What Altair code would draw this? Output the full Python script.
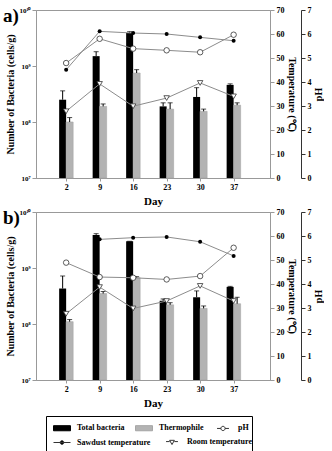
import altair as alt
import pandas as pd

# Sampling days
days = [2, 9, 16, 23, 30, 37]

# (a) bacterial counts (cells/g) with upper error, temperatures (°C) and pH
a_total = [2.5e8, 1.5e9, 3.9e9, 1.9e8, 2.8e8, 4.6e8]
a_total_err = [1.1e8, 3.0e8, 2.0e8, 3.0e7, 1.3e8, 2.0e7]
a_thermo = [1.0e8, 1.9e8, 7.5e8, 1.7e8, 1.55e8, 2.0e8]
a_thermo_err = [2.0e7, 2.0e7, 1.1e8, 5.0e7, 1.5e7, 2.0e7]
a_sawdust = [45.1, 61.1, 60.4, 60.0, 58.6, 57.2]
a_room = [27.8, 39.2, 29.9, 33.3, 39.6, 34.0]
a_ph = [4.79, 5.80, 5.39, 5.32, 5.24, 5.97]

# (b)
b_total = [4.3e8, 3.9e9, 3.0e9, 2.6e8, 3.0e8, 4.6e8]
b_total_err = [2.9e8, 2.0e8, 0.0, 2.0e7, 9.0e7, 1.0e7]
b_thermo = [1.1e8, 3.5e8, 6.7e8, 2.2e8, 1.9e8, 2.3e8]
b_thermo_err = [1.0e7, 3.0e7, 3.0e7, 2.0e7, 2.0e7, 7.0e7]
b_sawdust = [None, 58.6, 59.3, 59.6, 57.6, 51.7]
b_room = [27.6, 38.7, 29.8, 32.9, 39.2, 32.9]
b_ph = [4.89, 4.29, 4.26, 4.19, 4.33, 5.51]

# Count axis range (cells/g)
count_min, count_max = 1e7, 1e10

# Legend entries, first and second row
key1_names = ["Total bacteria", "Thermophile", "pH"]
key1_fill = ["black", "#b3b3b3", "white"]
key1_stroke = ["black", "#a6a6a6", "#333333"]
key1_shape = [
    "M-1,-0.3H1V0.3H-1Z",
    "M-1,-0.3H1V0.3H-1Z",
    "M-0.7,0H-0.25M0.25,0H0.7M0.25,0A0.25,0.25,0,1,1,-0.25,0A0.25,0.25,0,1,1,0.25,0Z",
]
key2_names = ["Sawdust temperature", "Room temperature"]
key2_fill = ["black", "white"]
key2_stroke = ["#333333", "#333333"]
key2_shape = [
    "M-1,0H1M0.22,0A0.22,0.22,0,1,1,-0.22,0A0.22,0.22,0,1,1,0.22,0Z",
    "M-0.7,-0.1H-0.28M0.28,-0.1H0.7M-0.28,-0.25L0.28,-0.25L0,0.25Z",
]

SERIF = "Liberation Serif"
W, H = 234, 168
LINE_GRAY = "#8c8c8c"

SUPERSCRIPT = ("datum.value == 10000000 ? '10\u2077' : datum.value == 100000000 ? '10\u2078' : "
               "datum.value == 1000000000 ? '10\u2079' : '10\u00b9\u2070'")

KEY_COMMON = dict(orient="none", direction="horizontal",
                  symbolSize=289, symbolOpacity=1, symbolStrokeWidth=1,
                  labelFont=SERIF, labelFontWeight="bold", labelFontSize=8,
                  labelOffset=6)


def key_layer(field, names, fills, strokes, shapes, **legend_kw):
    leg = dict(KEY_COMMON, **legend_kw)
    df = pd.DataFrame({field: names})
    return alt.Chart(df).mark_point(opacity=0, size=0).encode(
        fill=alt.Fill(f"{field}:N", sort=names,
                      scale=alt.Scale(domain=names, range=fills),
                      legend=alt.Legend(**leg)),
        stroke=alt.Stroke(f"{field}:N", sort=names,
                          scale=alt.Scale(domain=names, range=strokes),
                          legend=alt.Legend(**leg)),
        shape=alt.Shape(f"{field}:N", sort=names,
                        scale=alt.Scale(domain=names, range=shapes),
                        legend=alt.Legend(**leg)),
    )


def panel(tag, total, total_err, thermo, thermo_err, sawdust, room, ph, legend):
    df = pd.DataFrame({
        "day": days,
        "floor": [count_min] * len(days),
        "total": total,
        "total_top": [v + e for v, e in zip(total, total_err)],
        "thermo": thermo,
        "thermo_top": [v + e for v, e in zip(thermo, thermo_err)],
        "sawdust": sawdust,
        "room": room,
        "ph": ph,
    })
    base = alt.Chart(df)
    x = alt.X("day:Q",
              scale=alt.Scale(domain=[-4.3, 44.6], nice=False, zero=False),
              axis=alt.Axis(values=days, title="Day", tickSize=3,
                            labelFontSize=8, titleFontSize=11, titlePadding=4))

    ylog = alt.Scale(type="log", domain=[count_min, count_max], nice=False)
    yaxis = alt.Axis(values=[1e7, 1e8, 1e9, 1e10], labelExpr=SUPERSCRIPT,
                     title="Number of Bacteria (cells/g)", orient="left",
                     labelFontSize=7, titleFontSize=10, tickSize=4, titlePadding=3)

    def ycount(field):
        return alt.Y(field, type="quantitative", scale=ylog, axis=yaxis)

    bar_total = base.mark_rect(color="black", width=7, xOffset=-3.5).encode(
        x=x, y=ycount("total"), y2="floor:Q")
    bar_thermo = base.mark_rect(color="#b3b3b3", stroke="#a6a6a6",
                                strokeWidth=0.6, width=7, xOffset=3.5).encode(
        x=x, y=ycount("thermo"), y2="floor:Q")
    err_total = base.mark_rule(xOffset=-3.5, color="black").encode(
        x=x, y=ycount("total"), y2="total_top:Q")
    cap_total = base.mark_tick(orient="horizontal", size=5, thickness=1,
                               xOffset=-3.5, color="black").encode(
        x=x, y=ycount("total_top"))
    err_thermo = base.mark_rule(xOffset=3.5, color="black").encode(
        x=x, y=ycount("thermo"), y2="thermo_top:Q")
    cap_thermo = base.mark_tick(orient="horizontal", size=5, thickness=1,
                                xOffset=3.5, color="black").encode(
        x=x, y=ycount("thermo_top"))
    bacteria = alt.layer(bar_total, bar_thermo, err_total, cap_total,
                         err_thermo, cap_thermo)

    tscale = alt.Scale(domain=[0, 70], nice=False)
    taxis = alt.Axis(values=list(range(0, 80, 10)), orient="right",
                     title="Temperature (\u2103)", titleAngle=90,
                     labelFontSize=8, titleFontSize=10, tickSize=4, titlePadding=2)
    saw_line = base.mark_line(color=LINE_GRAY, strokeWidth=1).encode(
        x=x, y=alt.Y("sawdust:Q", scale=tscale, axis=taxis))
    saw_pts = base.mark_point(shape="circle", size=16, filled=True,
                              color="black", opacity=1).encode(
        x=x, y=alt.Y("sawdust:Q", scale=tscale, axis=taxis))
    room_line = base.mark_line(color=LINE_GRAY, strokeWidth=1).encode(
        x=x, y=alt.Y("room:Q", scale=tscale, axis=taxis))
    room_pts = base.mark_point(shape="triangle-down", size=30, fill="white",
                               stroke="#333333", strokeWidth=0.8, opacity=1).encode(
        x=x, y=alt.Y("room:Q", scale=tscale, axis=taxis))
    temperature = alt.layer(saw_line, room_line, saw_pts, room_pts)

    pscale = alt.Scale(domain=[0, 7], nice=False)
    paxis = alt.Axis(values=list(range(0, 8)), orient="right", offset=31,
                     title="pH", titleAngle=-90, domainColor="#333333",
                     tickColor="#333333", labelFontSize=8, titleFontSize=10,
                     tickSize=4, titlePadding=12)
    ph_line = base.mark_line(color=LINE_GRAY, strokeWidth=1).encode(
        x=x, y=alt.Y("ph:Q", scale=pscale, axis=paxis))
    ph_pts = base.mark_point(shape="circle", size=30, fill="white",
                             stroke="#333333", strokeWidth=0.8, opacity=1).encode(
        x=x, y=alt.Y("ph:Q", scale=pscale, axis=paxis))
    acidity = alt.layer(ph_line, ph_pts)

    layers = [bacteria, temperature, acidity]
    if legend:
        # first row carries the frame; its empty bottom title leaves room
        # for the second row, which sits inside the same frame
        layers.append(key_layer(
            "key1", key1_names, key1_fill, key1_stroke, key1_shape,
            legendX=10, legendY=204, padding=3, symbolOffset=4,
            columnPadding=6, strokeColor="black",
            title=" ", titleOrient="bottom", titleFontSize=18, titlePadding=0))
        layers.append(key_layer(
            "key2", key2_names, key2_fill, key2_stroke, key2_shape,
            legendX=17, legendY=221, padding=0, columnPadding=12, title=None))

    return alt.layer(*layers).resolve_scale(
        y="independent", fill="independent", stroke="independent",
        shape="independent",
    ).properties(
        width=W, height=H,
        title=alt.TitleParams(tag, anchor="start", frame="bounds", orient="top",
                              font=SERIF, fontSize=19, fontWeight="bold",
                              offset=-20, dx=-3),
    )


chart = alt.vconcat(
    panel("a)", a_total, a_total_err, a_thermo, a_thermo_err,
          a_sawdust, a_room, a_ph, False),
    panel("b)", b_total, b_total_err, b_thermo, b_thermo_err,
          b_sawdust, b_room, b_ph, True),
    spacing=0,
).properties(
    padding={"left": 2, "top": 5, "right": 0, "bottom": 0},
).configure_axis(
    labelFont=SERIF, titleFont=SERIF, labelFontWeight="bold",
    titleFontWeight="bold", labelColor="black", titleColor="black",
    grid=False, domainColor="#999999", tickColor="#999999",
).configure_view(
    stroke="#999999", strokeWidth=1,
)

chart.save("out.html", embed_options={"renderer": "svg", "actions": False})
